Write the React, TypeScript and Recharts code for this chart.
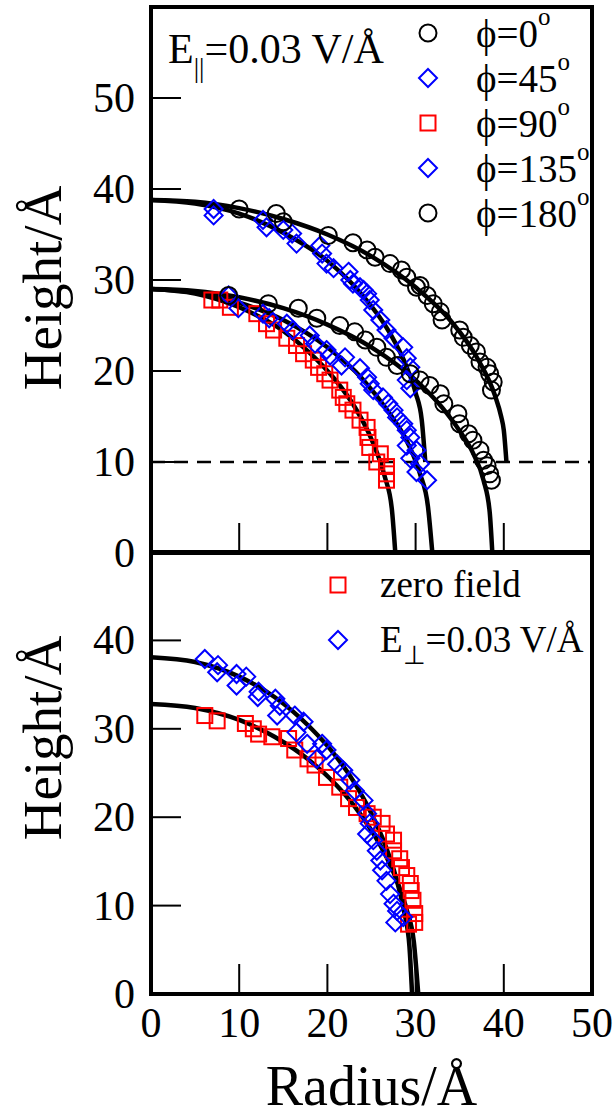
import React from 'react';
import { ComposedChart, Scatter, Line, XAxis, YAxis, ReferenceLine, ReferenceArea } from 'recharts';

const FONT = "'Liberation Serif', 'Times New Roman', serif";

// ---------- Top panel (E parallel) ----------
// phi = 0 deg (shifted up by 10)
const phi0 = [
  { r: 10.0, h: 37.8 }, { r: 14.2, h: 37.3 }, { r: 15.0, h: 36.4 }, { r: 20.1, h: 34.9 },
  { r: 22.9, h: 34.1 }, { r: 24.5, h: 33.3 }, { r: 25.4, h: 32.5 }, { r: 27.1, h: 31.8 },
  { r: 28.4, h: 31.1 }, { r: 29.0, h: 30.3 }, { r: 30.1, h: 29.2 }, { r: 30.5, h: 29.4 },
  { r: 31.3, h: 28.3 }, { r: 32.0, h: 27.4 }, { r: 32.8, h: 26.5 }, { r: 33.0, h: 25.6 },
  { r: 35.0, h: 24.5 }, { r: 35.4, h: 23.7 }, { r: 36.2, h: 22.8 }, { r: 36.9, h: 22.1 },
  { r: 37.3, h: 21.0 }, { r: 38.1, h: 20.4 }, { r: 38.4, h: 19.7 }, { r: 38.8, h: 18.8 },
  { r: 38.6, h: 17.9 },
];
// phi = 45 deg (shifted up by 10)
const phi45 = [
  { r: 7.1, h: 37.8 }, { r: 7.1, h: 37.1 }, { r: 12.7, h: 36.6 }, { r: 13.1, h: 35.8 },
  { r: 15.0, h: 35.5 }, { r: 16.0, h: 35.1 }, { r: 16.5, h: 34.0 }, { r: 19.2, h: 33.8 },
  { r: 19.4, h: 32.9 }, { r: 19.9, h: 31.8 }, { r: 20.7, h: 31.3 }, { r: 22.4, h: 30.9 },
  { r: 22.6, h: 30.0 }, { r: 22.9, h: 29.6 }, { r: 23.7, h: 29.2 }, { r: 24.1, h: 28.9 },
  { r: 24.5, h: 28.5 }, { r: 24.8, h: 27.8 }, { r: 25.2, h: 26.7 }, { r: 26.0, h: 25.6 },
  { r: 26.7, h: 24.5 }, { r: 27.5, h: 23.6 }, { r: 28.6, h: 22.6 }, { r: 29.0, h: 21.4 },
  { r: 29.4, h: 20.4 }, { r: 29.0, h: 19.0 }, { r: 29.4, h: 18.1 },
];
// phi = 90 deg
const phi90 = [
  { r: 6.9, h: 27.8 }, { r: 7.8, h: 27.8 }, { r: 9.0, h: 27.0 }, { r: 12.0, h: 26.3 },
  { r: 13.1, h: 25.2 }, { r: 13.9, h: 24.5 }, { r: 15.4, h: 23.6 }, { r: 16.5, h: 22.8 },
  { r: 17.3, h: 21.9 }, { r: 18.4, h: 21.2 }, { r: 19.0, h: 20.4 }, { r: 19.7, h: 19.7 },
  { r: 20.3, h: 19.0 }, { r: 21.4, h: 17.9 }, { r: 21.8, h: 17.1 }, { r: 22.2, h: 16.4 },
  { r: 22.9, h: 15.7 }, { r: 23.7, h: 14.6 }, { r: 24.5, h: 13.8 }, { r: 24.6, h: 12.7 },
  { r: 24.8, h: 11.6 }, { r: 26.0, h: 10.9 }, { r: 25.6, h: 10.0 }, { r: 26.7, h: 9.5 },
  { r: 26.7, h: 8.7 }, { r: 26.7, h: 8.0 },
];
// phi = 135 deg
const phi135 = [
  { r: 8.8, h: 28.3 }, { r: 9.9, h: 26.9 }, { r: 12.7, h: 26.3 }, { r: 13.4, h: 25.8 },
  { r: 15.4, h: 25.2 }, { r: 16.1, h: 24.5 }, { r: 18.0, h: 23.9 }, { r: 18.6, h: 23.0 },
  { r: 19.9, h: 22.3 }, { r: 20.3, h: 21.7 }, { r: 22.0, h: 21.5 }, { r: 21.6, h: 20.6 },
  { r: 23.7, h: 20.3 }, { r: 24.5, h: 19.3 }, { r: 24.8, h: 18.6 }, { r: 25.2, h: 17.9 },
  { r: 26.3, h: 17.1 }, { r: 26.9, h: 16.4 }, { r: 27.5, h: 15.7 }, { r: 27.9, h: 14.9 },
  { r: 28.6, h: 14.2 }, { r: 29.0, h: 13.5 }, { r: 29.4, h: 12.7 }, { r: 29.0, h: 11.8 },
  { r: 30.1, h: 11.3 }, { r: 29.4, h: 10.4 }, { r: 30.5, h: 9.8 }, { r: 30.1, h: 8.9 },
  { r: 31.3, h: 8.0 },
];
// phi = 180 deg
const phi180 = [
  { r: 8.8, h: 28.3 }, { r: 13.3, h: 27.4 }, { r: 16.7, h: 26.9 }, { r: 18.8, h: 25.8 },
  { r: 21.4, h: 25.0 }, { r: 23.1, h: 24.3 }, { r: 24.3, h: 23.4 }, { r: 25.6, h: 22.6 },
  { r: 26.7, h: 21.5 }, { r: 27.9, h: 20.6 }, { r: 29.4, h: 19.7 }, { r: 30.5, h: 19.0 },
  { r: 31.6, h: 18.4 }, { r: 32.8, h: 17.5 }, { r: 33.2, h: 16.4 }, { r: 34.8, h: 15.3 },
  { r: 35.0, h: 14.2 }, { r: 36.0, h: 13.1 }, { r: 36.5, h: 12.4 }, { r: 37.3, h: 11.3 },
  { r: 37.7, h: 10.2 }, { r: 38.1, h: 9.6 }, { r: 38.4, h: 8.7 }, { r: 38.6, h: 8.0 },
];
// fitted profiles, top panel
const fitPhi0 = [
  { r: 0, h: 38.8 }, { r: 5, h: 38.6 }, { r: 10, h: 37.9 }, { r: 15, h: 36.7 }, { r: 20, h: 35.0 },
  { r: 25, h: 32.6 }, { r: 30, h: 29.2 }, { r: 34, h: 25.5 }, { r: 37, h: 21.4 }, { r: 39, h: 17.3 },
  { r: 39.7, h: 15.0 }, { r: 40.0, h: 13.5 }, { r: 40.3, h: 10.0 },
];
const fitPhi45 = [
  { r: 0, h: 38.8 }, { r: 5, h: 38.4 }, { r: 10, h: 37.3 }, { r: 15, h: 35.2 }, { r: 20, h: 32.1 },
  { r: 24, h: 28.3 }, { r: 27, h: 24.3 }, { r: 29, h: 20.4 }, { r: 30, h: 17.6 }, { r: 30.7, h: 14.6 },
  { r: 31.1, h: 10.0 },
];
const fitPhi90 = [
  { r: 0, h: 29.0 }, { r: 5, h: 28.5 }, { r: 10, h: 27.0 }, { r: 15, h: 24.4 }, { r: 18, h: 22.0 },
  { r: 21, h: 18.9 }, { r: 23, h: 16.2 }, { r: 25, h: 12.5 }, { r: 26.5, h: 8.4 }, { r: 27.3, h: 4.9 },
  { r: 27.7, h: 0 },
];
const fitPhi135 = [
  { r: 0, h: 29.0 }, { r: 5, h: 28.6 }, { r: 10, h: 27.5 }, { r: 15, h: 25.6 }, { r: 20, h: 22.6 },
  { r: 24, h: 19.1 }, { r: 27, h: 15.4 }, { r: 29, h: 12.3 }, { r: 30.5, h: 8.7 }, { r: 31.4, h: 5.1 },
  { r: 31.9, h: 0 },
];
const fitPhi180 = [
  { r: 0, h: 29.0 }, { r: 5, h: 28.8 }, { r: 10, h: 28.1 }, { r: 15, h: 26.9 }, { r: 20, h: 25.1 },
  { r: 25, h: 22.6 }, { r: 30, h: 19.0 }, { r: 33, h: 16.0 }, { r: 35, h: 13.4 }, { r: 36.5, h: 11.0 },
  { r: 37.7, h: 8.0 }, { r: 38.4, h: 4.5 }, { r: 38.7, h: 0 },
];

// ---------- Bottom panel (zero field vs E perpendicular) ----------
const zeroField = [
  { r: 6.1, h: 31.5 }, { r: 7.5, h: 30.9 }, { r: 10.7, h: 30.6 }, { r: 11.6, h: 30.0 },
  { r: 12.2, h: 29.4 }, { r: 13.7, h: 29.1 }, { r: 15.6, h: 28.9 }, { r: 16.3, h: 27.6 },
  { r: 17.8, h: 26.6 }, { r: 18.6, h: 25.9 }, { r: 19.9, h: 24.5 }, { r: 21.4, h: 23.4 },
  { r: 22.4, h: 22.1 }, { r: 23.3, h: 21.1 }, { r: 24.5, h: 20.4 }, { r: 25.2, h: 20.0 },
  { r: 26.2, h: 19.3 }, { r: 26.7, h: 18.1 }, { r: 27.5, h: 17.4 }, { r: 27.5, h: 16.2 },
  { r: 28.2, h: 15.3 }, { r: 28.4, h: 14.3 }, { r: 29.0, h: 13.4 }, { r: 29.4, h: 12.5 },
  { r: 29.5, h: 11.7 }, { r: 29.7, h: 10.6 }, { r: 29.9, h: 9.1 }, { r: 29.9, h: 8.1 },
  { r: 29.2, h: 7.9 },
];
const ePerp = [
  { r: 6.1, h: 37.9 }, { r: 7.6, h: 37.2 }, { r: 7.5, h: 36.4 }, { r: 9.7, h: 36.2 },
  { r: 9.7, h: 34.9 }, { r: 10.8, h: 35.9 }, { r: 12.2, h: 34.2 }, { r: 12.1, h: 33.6 },
  { r: 14.1, h: 33.4 }, { r: 14.6, h: 32.6 }, { r: 14.3, h: 31.5 }, { r: 16.3, h: 31.5 },
  { r: 17.3, h: 30.8 }, { r: 16.5, h: 29.6 }, { r: 17.7, h: 28.3 }, { r: 19.4, h: 28.3 },
  { r: 19.9, h: 27.6 }, { r: 18.8, h: 26.6 }, { r: 21.1, h: 26.0 }, { r: 21.8, h: 25.3 },
  { r: 22.6, h: 24.2 }, { r: 23.1, h: 23.0 }, { r: 24.1, h: 21.9 }, { r: 24.5, h: 20.4 },
  { r: 24.8, h: 19.3 }, { r: 24.5, h: 18.1 }, { r: 25.2, h: 17.4 }, { r: 25.6, h: 16.2 },
  { r: 26.0, h: 15.1 }, { r: 26.2, h: 14.0 }, { r: 26.7, h: 12.8 }, { r: 27.1, h: 11.3 },
  { r: 27.5, h: 10.2 }, { r: 27.9, h: 9.4 }, { r: 27.7, h: 8.1 }, { r: 28.6, h: 8.7 },
];
const fitZero = [
  { r: 0, h: 32.8 }, { r: 5, h: 32.35 }, { r: 10, h: 31.0 }, { r: 14, h: 29.1 }, { r: 18, h: 26.4 },
  { r: 21, h: 23.65 }, { r: 23, h: 21.35 }, { r: 25, h: 18.5 }, { r: 26.7, h: 15.5 }, { r: 28, h: 12.5 },
  { r: 29, h: 9.5 }, { r: 29.8, h: 5.9 }, { r: 30.3, h: 0 },
];
const fitPerp = [
  { r: 0, h: 38.1 }, { r: 5, h: 37.55 }, { r: 10, h: 35.9 }, { r: 14, h: 33.6 }, { r: 18, h: 30.2 },
  { r: 21, h: 26.85 }, { r: 23, h: 24.0 }, { r: 25, h: 20.4 }, { r: 26.5, h: 17.0 }, { r: 27.8, h: 13.1 },
  { r: 28.7, h: 9.3 }, { r: 29.3, h: 5.4 }, { r: 29.6, h: 0 },
];

// axes / labels
const xTicks = [0, 10, 20, 30, 40, 50];
const yTicksTop = [0, 10, 20, 30, 40, 50];
const yTicksBottom = [0, 10, 20, 30, 40];
const xTitle = 'Radius/Å';
const yTitle = 'Height/Å';
const topLegend = [
  { shape: 'circle', angle: '0' },
  { shape: 'diamond', angle: '45' },
  { shape: 'square', angle: '90' },
  { shape: 'diamond', angle: '135' },
  { shape: 'circle', angle: '180' },
];
const bottomLegend = [
  { shape: 'square', main: 'zero field' },
  { shape: 'diamond', main: 'E', sub: '⊥', rest: '=0.03 V/Å' },
];

const BLUE = '#0000ff';
const RED = '#ff0000';
const TICK_FONT = 42;

function Marker({ kind, cx, cy }: { kind: string; cx: number; cy: number }) {
  if (cx == null || cy == null) return <g />;
  if (kind === 'circle') return <circle cx={cx} cy={cy} r={8.5} fill="none" stroke="#000" strokeWidth={2} />;
  if (kind === 'square') return <rect x={cx - 7.5} y={cy - 7.5} width={15} height={15} fill="none" stroke={RED} strokeWidth={2} />;
  const d = 9;
  return (
    <path d={`M${cx},${cy - d}L${cx + d},${cy}L${cx},${cy + d}L${cx - d},${cy}Z`} fill="none" stroke={BLUE} strokeWidth={2} />
  );
}

const shapeOf = (kind: string) => (p: any) => <Marker kind={kind} cx={p.cx} cy={p.cy} />;

const makeXTick = (withLabel: boolean) => (props: any) => {
  const { x, y, payload } = props;
  const v = payload.value;
  return (
    <g>
      {v !== 0 && v !== 50 && <line x1={x} y1={y} x2={x} y2={y - 30} stroke="#000" strokeWidth={2} />}
      {withLabel && (
        <text x={x} y={y + 43} fontFamily={FONT} fontSize={TICK_FONT} textAnchor="middle" fill="#000">
          {String(v)}
        </text>
      )}
    </g>
  );
};

const makeYTick = (maxLine: number) => (props: any) => {
  const { x, y, payload } = props;
  const v = payload.value;
  return (
    <g>
      {v !== 0 && v <= maxLine && <line x1={x} y1={y} x2={x + 30} y2={y} stroke="#000" strokeWidth={2} />}
      <text x={x - 16} y={y + 14} fontFamily={FONT} fontSize={TICK_FONT} textAnchor="end" fill="#000">
        {String(v)}
      </text>
    </g>
  );
};

function YTitle({ cyPos }: any) {
  return (
    <text
      transform={`translate(61,${cyPos}) rotate(-90)`}
      x={0}
      y={0}
      fontFamily={FONT}
      fontSize={55}
      textAnchor="middle"
      fill="#000"
    >
      {yTitle}
    </text>
  );
}

function XTitle({ cyPos }: any) {
  return (
    <text x={371.5} y={cyPos} fontFamily={FONT} fontSize={56} textAnchor="middle" fill="#000">
      {xTitle}
    </text>
  );
}

function LegendSymbol({ kind, x, y }: any) {
  return <Marker kind={kind} cx={x} cy={y} />;
}

function TopOverlay() {
  return (
    <svg width={616} height={560} style={{ position: 'absolute', left: 0, top: 0, pointerEvents: 'none' }}>
      <text x={168} y={63} fontFamily={FONT} fontSize={42} fill="#000">
        E<tspan dy={14} fontSize={27}>||</tspan>
        <tspan dy={-14}>=0.03 V/Å</tspan>
      </text>
      {topLegend.map((it, i) => {
        const cy = 33 + i * 45;
        return (
          <g key={i}>
            <LegendSymbol kind={it.shape} x={428} y={cy} />
            <text x={476} y={cy + 14} fontFamily={FONT} fontSize={39} fill="#000">
              {'ϕ=' + it.angle}
              <tspan dy={-22} fontSize={25}>o</tspan>
            </text>
          </g>
        );
      })}
    </svg>
  );
}

function BottomOverlay() {
  return (
    <svg width={616} height={576} style={{ position: 'absolute', left: 0, top: 0, pointerEvents: 'none' }}>
      {bottomLegend.map((it, i) => {
        const cy = 45 + i * 55;
        return (
          <g key={i}>
            <LegendSymbol kind={it.shape} x={338} y={cy} />
            <text x={380} y={cy + 12} fontFamily={FONT} fontSize={37} fill="#000">
              {it.main}
              {it.sub && <tspan dy={12} fontSize={26}>{it.sub}</tspan>}
              {it.rest && <tspan dy={-12}>{it.rest}</tspan>}
            </text>
          </g>
        );
      })}
    </svg>
  );
}

const lineProps = {
  type: 'monotone' as const,
  dataKey: 'h',
  stroke: '#000',
  strokeWidth: 4.5,
  dot: false,
  activeDot: false,
  isAnimationActive: false,
  legendType: 'none' as const,
};

export default function App() {
  return (
    <div style={{ position: 'absolute', left: 0, top: 0, width: 616, height: 1116, background: '#fff' }}>
      <div style={{ position: 'absolute', left: 0, top: 0, width: 616, height: 590 }}>
        <ComposedChart width={616} height={590} margin={{ top: 7, right: 24, bottom: 0, left: 0 }}>
          <XAxis
            type="number"
            dataKey="r"
            domain={[0, 50]}
            ticks={xTicks}
            interval={0}
            height={37}
            axisLine={false}
            tickLine={false}
            tickSize={0}
            tickMargin={0}
            tick={makeXTick(false)}
          />
          <YAxis
            type="number"
            dataKey="h"
            domain={[0, 60]}
            ticks={yTicksTop}
            interval={0}
            width={151}
            axisLine={false}
            tickLine={false}
            tickSize={0}
            tickMargin={0}
            tick={makeYTick(50)}
            label={<YTitle cyPos={288} />}
          />
          <ReferenceArea x1={0} x2={50} y1={0} y2={60} fill="none" fillOpacity={0} stroke="#000" strokeWidth={4} />
          <ReferenceLine y={10} stroke="#000" strokeWidth={2.5} strokeDasharray="14 9" />
          <Scatter data={phi90} shape={shapeOf('square')} isAnimationActive={false} />
          <Scatter data={phi135} shape={shapeOf('diamond')} isAnimationActive={false} />
          <Scatter data={phi45} shape={shapeOf('diamond')} isAnimationActive={false} />
          <Scatter data={phi180} shape={shapeOf('circle')} isAnimationActive={false} />
          <Scatter data={phi0} shape={shapeOf('circle')} isAnimationActive={false} />
          <Line data={fitPhi0} {...lineProps} />
          <Line data={fitPhi45} {...lineProps} />
          <Line data={fitPhi90} {...lineProps} />
          <Line data={fitPhi135} {...lineProps} />
          <Line data={fitPhi180} {...lineProps} />
        </ComposedChart>
        <TopOverlay />
      </div>
      <div style={{ position: 'absolute', left: 0, top: 540, width: 616, height: 576 }}>
        <ComposedChart width={616} height={576} margin={{ top: 12, right: 24, bottom: 0, left: 0 }}>
          <XAxis
            type="number"
            dataKey="r"
            domain={[0, 50]}
            ticks={xTicks}
            interval={0}
            height={122}
            axisLine={false}
            tickLine={false}
            tickSize={0}
            tickMargin={0}
            tick={makeXTick(true)}
            label={<XTitle cyPos={565} />}
          />
          <YAxis
            type="number"
            dataKey="h"
            domain={[0, 50]}
            ticks={yTicksBottom}
            interval={0}
            width={151}
            axisLine={false}
            tickLine={false}
            tickSize={0}
            tickMargin={0}
            tick={makeYTick(40)}
            label={<YTitle cyPos={198} />}
          />
          <ReferenceArea x1={0} x2={50} y1={0} y2={50} fill="none" fillOpacity={0} stroke="#000" strokeWidth={4} />
          <Scatter data={zeroField} shape={shapeOf('square')} isAnimationActive={false} />
          <Scatter data={ePerp} shape={shapeOf('diamond')} isAnimationActive={false} />
          <Line data={fitPerp} {...lineProps} />
          <Line data={fitZero} {...lineProps} />
        </ComposedChart>
        <BottomOverlay />
      </div>
    </div>
  );
}
